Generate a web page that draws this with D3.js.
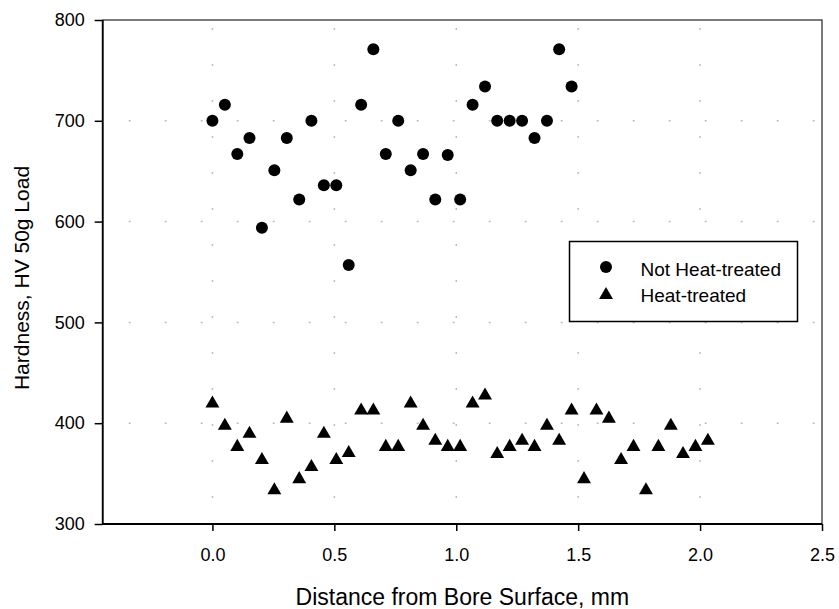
<!DOCTYPE html>
<html>
<head>
<meta charset="utf-8">
<script src="https://cdn.jsdelivr.net/npm/d3@7"></script>
<style>
  body { margin: 0; background: #fff; }
  text { font-family: "Liberation Sans", Arial, sans-serif; fill: #000; }
</style>
</head>
<body>
<div id="main"></div>
<script>
// distance from bore surface, mm (0.002 in steps)
const xNotHeat = [0, 0.051, 0.102, 0.152, 0.203, 0.254, 0.305, 0.356, 0.406, 0.457,
  0.508, 0.559, 0.610, 0.660, 0.711, 0.762, 0.813, 0.864, 0.914, 0.965,
  1.016, 1.067, 1.118, 1.168, 1.219, 1.270, 1.321, 1.372, 1.422, 1.473];
const hvNotHeat = [700, 716, 667, 683, 594, 651, 683, 622, 700, 636,
  636, 557, 716, 771, 667, 700, 651, 667, 622, 666,
  622, 716, 734, 700, 700, 700, 683, 700, 771, 734];

const xHeat = [0, 0.051, 0.102, 0.152, 0.203, 0.254, 0.305, 0.356, 0.406, 0.457,
  0.508, 0.559, 0.610, 0.660, 0.711, 0.762, 0.813, 0.864, 0.914, 0.965,
  1.016, 1.067, 1.118, 1.168, 1.219, 1.270, 1.321, 1.372, 1.422, 1.473,
  1.524, 1.575, 1.626, 1.676, 1.727, 1.778, 1.829, 1.880, 1.930, 1.981, 2.032];
const hvHeat = [421, 399, 378, 391, 365, 335, 406, 346, 358, 391,
  365, 372, 414, 414, 378, 378, 421, 399, 384, 378,
  378, 421, 429, 371, 378, 384, 378, 399, 384, 414,
  346, 414, 406, 365, 378, 335, 378, 399, 371, 378, 384];

const xTicks = [0, 0.5, 1.0, 1.5, 2.0, 2.5];
const yTicks = [300, 400, 500, 600, 700, 800];
const seriesNames = ['Not Heat-treated', 'Heat-treated'];

const width = 839, height = 609;
const margin = { left: 102.7, right: 17, top: 20, bottom: 85 };

const svg = d3.select('#main')
  .append('svg')
  .attr('width', width)
  .attr('height', height);

const xScale = d3.scaleLinear()
  .domain([-0.45, 2.5])
  .range([margin.left, width - margin.right]);

const yScale = d3.scaleLinear()
  .domain([300, 800])
  .range([height - margin.bottom, margin.top]);

const x0 = xScale.range()[0], x1 = xScale.range()[1];
const y0 = yScale.range()[0], y1 = yScale.range()[1];

// dotted grid
const grid = svg.append('g')
  .attr('stroke', '#bdbdbd')
  .attr('stroke-width', 1.5)
  .attr('stroke-dasharray', '2,34')
  .attr('stroke-dashoffset', 10);

grid.selectAll('line.h')
  .data(yTicks.filter((d) => d > 300 && d < 800))
  .enter()
  .append('line')
  .attr('x1', x0).attr('x2', x1)
  .attr('y1', (d) => yScale(d)).attr('y2', (d) => yScale(d));

grid.selectAll('line.v')
  .data(xTicks.filter((d) => d < 2.5))
  .enter()
  .append('line')
  .attr('x1', (d) => xScale(d)).attr('x2', (d) => xScale(d))
  .attr('y1', y0).attr('y2', y1);

// axes
const xAxis = svg.append('g')
  .attr('transform', `translate(0, ${y0})`)
  .call(d3.axisBottom(xScale).tickValues(xTicks).tickFormat(d3.format('.1f'))
    .tickSize(7).tickPadding(17));

const yAxis = svg.append('g')
  .attr('transform', `translate(${x0}, 0)`)
  .call(d3.axisLeft(yScale).tickValues(yTicks).tickFormat(d3.format('d'))
    .tickSize(8).tickPadding(10));

[xAxis, yAxis].forEach((ax) => {
  ax.select('.domain').remove();
  ax.selectAll('line').attr('stroke', '#000').attr('stroke-width', 1.5);
  ax.selectAll('text')
    .style('font-family', '"Liberation Sans", Arial, sans-serif')
    .style('font-size', '18px')
    .attr('fill', '#000');
});

// frame
svg.append('rect')
  .attr('x', x0).attr('y', y1)
  .attr('width', x1 - x0).attr('height', y0 - y1)
  .attr('fill', 'none')
  .attr('stroke', '#222')
  .attr('stroke-width', 1.2);
svg.append('path')
  .attr('d', `M${x0},${y1}V${y0}H${x1}`)
  .attr('fill', 'none')
  .attr('stroke', '#000')
  .attr('stroke-width', 1.8);

// markers
const circleRadius = 6;
const triangle = d3.symbol().type(d3.symbolTriangle).size(84);

svg.append('g').selectAll('circle')
  .data(xNotHeat.map((x, i) => ({ x: x, v: hvNotHeat[i] })))
  .enter()
  .append('circle')
  .attr('cx', (d) => xScale(d.x))
  .attr('cy', (d) => yScale(d.v))
  .attr('r', circleRadius)
  .attr('fill', '#000');

svg.append('g').selectAll('path')
  .data(xHeat.map((x, i) => ({ x: x, v: hvHeat[i] })))
  .enter()
  .append('path')
  .attr('d', triangle)
  .attr('transform', (d) => `translate(${xScale(d.x)}, ${yScale(d.v) + 1.5})`)
  .attr('fill', '#000');

// legend
const legend = svg.append('g');
legend.append('rect')
  .attr('x', 569.5).attr('y', 241.5)
  .attr('width', 228).attr('height', 80)
  .attr('fill', '#fff')
  .attr('stroke', '#000')
  .attr('stroke-width', 1.5);
legend.append('circle')
  .attr('cx', 606).attr('cy', 267)
  .attr('r', circleRadius)
  .attr('fill', '#000');
legend.append('path')
  .attr('d', triangle)
  .attr('transform', 'translate(606, 295)')
  .attr('fill', '#000');
legend.selectAll('text')
  .data(seriesNames)
  .enter()
  .append('text')
  .attr('x', 640.5)
  .attr('y', (d, i) => 276 + i * 26)
  .style('font-size', '19px')
  .text((d) => d);

// axis titles
svg.append('text')
  .attr('x', (x0 + x1) / 2)
  .attr('y', 605)
  .attr('text-anchor', 'middle')
  .style('font-size', '23px')
  .text('Distance from Bore Surface, mm');

svg.append('text')
  .attr('transform', `translate(29, ${(y0 + y1) / 2 + 6}) rotate(-90)`)
  .attr('text-anchor', 'middle')
  .style('font-size', '21px')
  .text('Hardness, HV 50g Load');
</script>
</body>
</html>
